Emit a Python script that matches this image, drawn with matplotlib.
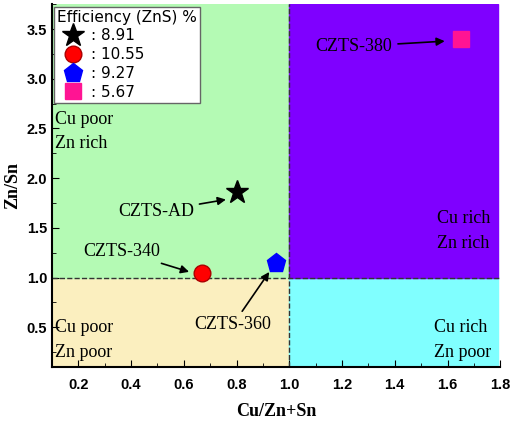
import matplotlib
matplotlib.use('Agg')
import matplotlib.pyplot as plt
from matplotlib.ticker import MultipleLocator

samples = ['CZTS-AD', 'CZTS-340', 'CZTS-360', 'CZTS-380']
cu_ratio = [0.80, 0.67, 0.95, 1.65]
zn_sn = [1.86, 1.05, 1.15, 3.40]
eff = ['8.91', '10.55', '9.27', '5.67']

fig = plt.figure(figsize=(5.2, 4.21), dpi=100)
ax = fig.add_axes([0.1, 0.128, 0.862, 0.862])
ax.set_xlim(0.1, 1.8)
ax.set_ylim(0.1, 3.75)
ax.axvspan(0.1, 1.0, ymin=0, ymax=(1.0-0.1)/3.65, color='#fbefbf', zorder=0)
ax.axvspan(0.1, 1.0, ymin=(1.0-0.1)/3.65, ymax=1, color='#b4fab4', zorder=0)
ax.axvspan(1.0, 1.79, ymin=0, ymax=(1.0-0.1)/3.65, color='#80ffff', zorder=0)
ax.axvspan(1.0, 1.79, ymin=(1.0-0.1)/3.65, ymax=1, color='#7f00ff', zorder=0)
ax.axvline(1.0, color='#333333', ls='--', lw=1)
ax.axhline(1.0, color='#333333', ls='--', lw=1)

h1, = ax.plot(cu_ratio[0], zn_sn[0], marker='*', color='black', ms=17, ls='none', zorder=5)
h2, = ax.plot(cu_ratio[1], zn_sn[1], marker='o', color='red', mec='#aa0000', ms=12, ls='none', zorder=5)
h3, = ax.plot(cu_ratio[2], zn_sn[2], marker='p', color='blue', ms=14, ls='none', zorder=5)
h4, = ax.plot(cu_ratio[3], zn_sn[3], marker='s', color='#ff1493', ms=12, ls='none', zorder=5)
leg = ax.legend([h1, h2, h3, h4], [': ' + e for e in eff], title='Efficiency (ZnS) %',
                loc='upper left', fancybox=False, edgecolor='#666666', framealpha=1,
                handletextpad=0.2, borderpad=0.2, labelspacing=0.25, fontsize=11,
                title_fontsize=11, borderaxespad=0.15)
leg._legend_box.align = 'left'

tf = dict(family='Liberation Serif', fontsize=13)
ap = dict(arrowstyle='-|>', color='black', lw=1.2, mutation_scale=12)
ax.annotate(samples[0], xy=(0.77, 1.79), xytext=(0.35, 1.62), arrowprops=ap, **tf)
ax.annotate(samples[1], xy=(0.63, 1.05), xytext=(0.22, 1.22), arrowprops=ap, **tf)
ax.annotate(samples[2], xy=(0.93, 1.08), xytext=(0.64, 0.48), arrowprops=ap, **tf)
ax.annotate(samples[3], xy=(1.6, 3.38), xytext=(1.1, 3.28), arrowprops=ap, **tf)
ax.text(0.11, 2.3, 'Cu poor\nZn rich', linespacing=1.6, **tf)
ax.text(0.11, 0.2, 'Cu poor\nZn poor', linespacing=1.6, **tf)
ax.text(1.56, 1.3, 'Cu rich\nZn rich', linespacing=1.6, **tf)
ax.text(1.55, 0.2, 'Cu rich\nZn poor', linespacing=1.6, **tf)

ax.xaxis.set_minor_locator(MultipleLocator(0.1))
ax.yaxis.set_minor_locator(MultipleLocator(0.25))
ax.set_xticks([0.2,0.4,0.6,0.8,1.0,1.2,1.4,1.6,1.8])
ax.set_yticks([0.5,1.0,1.5,2.0,2.5,3.0,3.5])
ax.tick_params(direction='in', which='both', labelsize=10.5)
ax.tick_params(which='major', length=5)
ax.tick_params(which='minor', length=3)
for lab in ax.get_xticklabels() + ax.get_yticklabels():
    lab.set_fontweight('bold')
    lab.set_family('Liberation Sans')
ax.tick_params(axis='x', pad=8)
for s in ['top', 'right']:
    ax.spines[s].set_visible(False)
for s in ['left', 'bottom']:
    ax.spines[s].set_linewidth(1.5)
ax.set_xlabel('Cu/Zn+Sn', family='Liberation Serif', fontweight='bold', fontsize=13, labelpad=8)
ax.set_ylabel('Zn/Sn', family='Liberation Serif', fontweight='bold', fontsize=13, labelpad=4)
fig.savefig('out.png', dpi=100)
